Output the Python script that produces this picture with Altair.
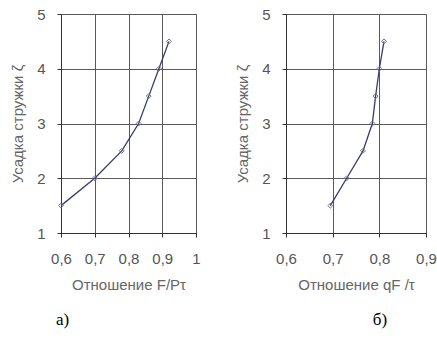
import altair as alt
import pandas as pd

# Panel а): shrinkage vs F/Pτ
ratio_a = [0.60, 0.70, 0.78, 0.83, 0.86, 0.89, 0.92]
shrink_a = [1.5, 2.0, 2.5, 3.0, 3.5, 4.0, 4.5]
# Panel б): shrinkage vs qF/τ
ratio_b = [0.695, 0.73, 0.765, 0.785, 0.792, 0.80, 0.81]
shrink_b = [1.5, 2.0, 2.5, 3.0, 3.5, 4.0, 4.5]

x_ticks_a = [0.6, 0.7, 0.8, 0.9, 1.0]
x_ticks_b = [0.6, 0.7, 0.8, 0.9]
y_ticks = [1, 2, 3, 4, 5]

y_title = "Усадка  стружки  ζ"
x_title_a = "Отношение  F/Pτ"
x_title_b = "Отношение  qF /τ"

LBL = "datum.value == 1 ? '1' : replace(format(datum.value, '.1f'), '.', ',')"


def panel(xs, ys, xdom, xticks, xtitle, w, label, dx):
    df = pd.DataFrame({"x": xs, "y": ys})
    xenc = alt.X("x:Q", scale=alt.Scale(domain=xdom, nice=False, zero=False),
                 axis=alt.Axis(values=xticks, labelExpr=LBL, title=xtitle))
    yenc = alt.Y("y:Q", scale=alt.Scale(domain=[1, 5], nice=False, zero=False),
                 axis=alt.Axis(values=y_ticks, title=y_title))
    base = alt.Chart(df).encode(x=xenc, y=yenc, order=alt.Order("y:Q"))
    line = base.mark_line(color="#3a3a6e", strokeWidth=1.3)
    pts = base.mark_point(shape="diamond", filled=False, size=24,
                          color="#707088", strokeWidth=1, opacity=1)
    return (line + pts).properties(
        width=w, height=219,
        title=alt.TitleParams(text=label, orient="bottom", anchor="middle",
                              dx=dx, offset=20, font="Liberation Serif",
                              fontSize=17, fontWeight="normal", color="#000"),
    )


left = panel(ratio_a, shrink_a, [0.6, 1.0], x_ticks_a, x_title_a, 135, "а)", -66)
right = panel(ratio_b, shrink_b, [0.6, 0.9], x_ticks_b, x_title_b, 140, "б)", 24)

chart = alt.hconcat(left, right, spacing=34).properties(
    padding={"left": 10, "top": 6, "right": 0, "bottom": 0},
    background="white",
).configure_view(stroke="#777", strokeWidth=1).configure_axis(
    grid=True, gridColor="#5a5a5a", gridOpacity=1, gridWidth=1,
    domainColor="#333", tickColor="#333", tickSize=4, labelFlush=False,
    labelFont="Liberation Sans", labelFontSize=15, labelColor="#555",
    titleFont="Liberation Sans", titleFontSize=15, titleColor="#666",
    titleFontWeight="normal",
).configure_axisY(titlePadding=11, labelPadding=12).configure_axisX(
    titlePadding=11, labelPadding=14)

chart.save("out.html", embed_options={"renderer": "svg", "actions": False})
